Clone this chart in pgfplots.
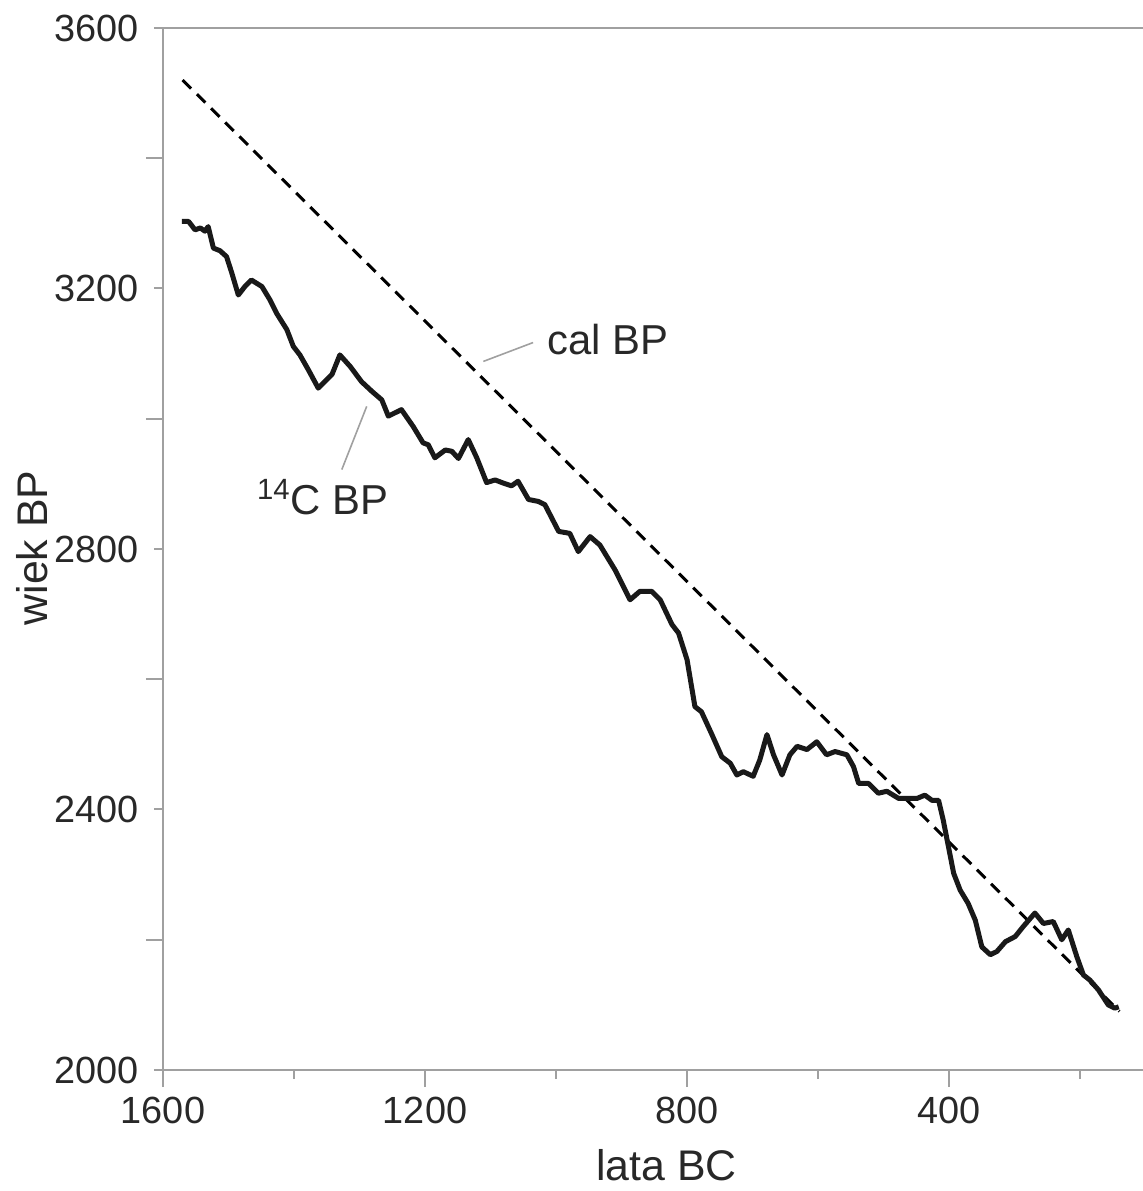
\documentclass[border=0pt]{standalone}
\usepackage{pgfplots}
\pgfplotsset{compat=1.18}
\usepackage{fontspec}
\setmainfont{Liberation Sans}
\definecolor{axisgray}{RGB}{160,160,160}
\definecolor{txt}{RGB}{40,40,40}
\definecolor{curve}{RGB}{25,25,25}
\begin{document}
\begin{tikzpicture}
\begin{axis}[
  scale only axis, width=490bp, height=521bp,
  x dir=reverse, xmin=104, xmax=1600, ymin=2000, ymax=3600,
  axis line style={draw=none},
  xtick={1600,1200,800,400}, xticklabels={1600,1200,800,400},
  minor xtick={1400,1000,600,200},
  ytick={2200,2600,3000,3400}, yticklabels={,,,},
  extra y ticks={2000,2400,2800,3200,3600},
  extra y tick labels={2000,2400,2800,3200,3600},
  extra tick style={major tick length=4.5bp},
  tick align=outside, xtick pos=bottom, ytick pos=left,
  major tick length=8.5bp, minor tick length=4.5bp,
  tick style={axisgray, line width=1bp},
  every tick label/.style={font=\fontsize{19}{21}\selectfont, text=txt},
  yticklabel style={xshift=-4bp},
  xticklabel style={yshift=-1.5bp},
  xlabel={lata BC}, ylabel={wiek BP},
  every axis x label/.style={at={(rel axis cs:0.514,0)}, anchor=center, yshift=-47.5bp},
  every axis y label/.style={at={(rel axis cs:-0.1337,0.501)}, anchor=center, rotate=90},
  label style={font=\fontsize{21.5}{24}\selectfont, text=txt},
  clip=false,
]
\draw[axisgray, line width=1bp] (rel axis cs:0,0) -- (rel axis cs:0,1) -- (rel axis cs:1,1);
\draw[axisgray, line width=1bp] (rel axis cs:0,0) -- (rel axis cs:1,0);
\coordinate (bl) at (rel axis cs:0,0);
\coordinate (tr) at (rel axis cs:1,1);
% cal BP
\addplot[black, line width=1.5bp, dash pattern=on 6bp off 4bp] coordinates {(1570,3520) (140,2090)};
% 14C BP
\addplot[curve, line width=2.5bp, line join=round] table {
x y
1571 3303
1561 3303
1551 3290
1543 3293
1536 3288
1531 3295
1523 3262
1513 3258
1503 3249
1495 3224
1485 3190
1475 3203
1465 3213
1449 3203
1437 3183
1426 3161
1411 3137
1401 3111
1391 3098
1378 3075
1363 3047
1342 3068
1330 3098
1314 3080
1297 3057
1281 3042
1266 3029
1256 3004
1236 3014
1218 2988
1203 2963
1195 2960
1185 2940
1169 2952
1159 2950
1149 2939
1134 2968
1121 2940
1106 2902
1093 2906
1080 2901
1068 2897
1058 2904
1042 2876
1027 2873
1017 2868
996 2827
979 2824
966 2796
948 2819
933 2806
910 2768
887 2722
872 2735
854 2735
841 2722
823 2684
813 2671
800 2630
788 2558
778 2550
762 2515
747 2481
734 2471
724 2453
714 2458
699 2451
689 2476
678 2515
668 2484
655 2453
643 2484
632 2497
617 2492
602 2504
587 2484
574 2489
556 2484
546 2466
538 2440
523 2440
508 2425
495 2428
477 2417
449 2417
437 2422
426 2414
416 2414
409 2384
401 2343
393 2302
383 2276
371 2256
360 2230
350 2189
337 2177
327 2182
314 2197
299 2205
287 2220
269 2241
256 2225
241 2228
228 2200
218 2215
205 2174
195 2146
185 2138
172 2123
157 2100
147 2095
141 2097
};
\draw[axisgray, line width=0.8bp] (axis cs:1111,3088) -- (axis cs:1035,3117);
\node[text=txt, font=\fontsize{21}{24}\selectfont] at (axis cs:921,3121) {cal BP};
\draw[axisgray, line width=0.8bp] (axis cs:1327,2922) -- (axis cs:1289,3019);
\node[text=txt, font=\fontsize{21}{24}\selectfont] at (axis cs:1356,2879) {\textsuperscript{14}C BP};
\end{axis}
\pgfresetboundingbox
\useasboundingbox ([shift={(-81.5bp,-60.5bp)}]bl) rectangle ([shift={(0bp,14bp)}]tr);
\end{tikzpicture}
\end{document}
